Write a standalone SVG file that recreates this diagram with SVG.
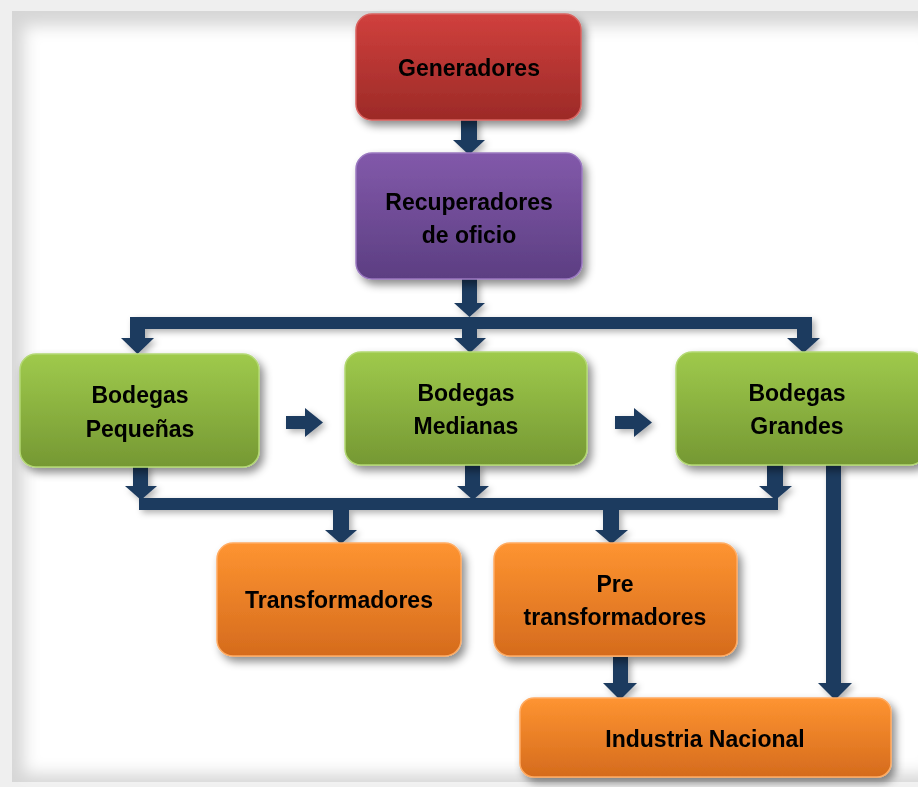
<svg xmlns="http://www.w3.org/2000/svg" width="918" height="787" viewBox="0 0 918 787">
  <defs>
    <linearGradient id="gRed" x1="0" y1="0" x2="0" y2="1">
      <stop offset="0" stop-color="#d0403d"/>
      <stop offset="1" stop-color="#9c2a27"/>
    </linearGradient>
    <linearGradient id="gPurple" x1="0" y1="0" x2="0" y2="1">
      <stop offset="0" stop-color="#8259aa"/>
      <stop offset="1" stop-color="#5c3e82"/>
    </linearGradient>
    <linearGradient id="gGreen" x1="0" y1="0" x2="0" y2="1">
      <stop offset="0" stop-color="#9fca4c"/>
      <stop offset="1" stop-color="#759833"/>
    </linearGradient>
    <linearGradient id="gOrange" x1="0" y1="0" x2="0" y2="1">
      <stop offset="0" stop-color="#fe9431"/>
      <stop offset="1" stop-color="#d56b1d"/>
    </linearGradient>
    <filter id="shadow" x="-20%" y="-20%" width="140%" height="150%">
      <feDropShadow dx="4" dy="5" stdDeviation="4" flood-color="#000" flood-opacity="0.45"/>
    </filter>
    <filter id="arrowShadow" x="-30%" y="-30%" width="160%" height="160%">
      <feDropShadow dx="3" dy="3" stdDeviation="3" flood-color="#000" flood-opacity="0.3"/>
    </filter>
    <filter id="soft" x="-5%" y="-5%" width="110%" height="110%">
      <feGaussianBlur stdDeviation="8"/>
    </filter>
  </defs>
  <style>
    .node rect { stroke-width: 1.5; }
    .red rect { fill: url(#gRed); stroke: #d9625f; }
    .purple rect { fill: url(#gPurple); stroke: #9a78c0; }
    .green rect { fill: url(#gGreen); stroke: #b3d873; }
    .orange rect { fill: url(#gOrange); stroke: #ffab62; }
    .node { filter: url(#shadow); }
    .node text { font-family: "Liberation Sans", Arial, sans-serif; font-weight: bold; font-size: 23px; fill: #000; text-anchor: middle; }
    .conn { fill: #1c3a5e; filter: url(#arrowShadow); }
  </style>

  <!-- page frame with soft inner edge -->
  <rect x="0" y="0" width="918" height="787" fill="#efefef"/>
  <rect x="12" y="11" width="906" height="771" fill="#d6d6d6"/>
  <rect x="24" y="26" width="910" height="748" fill="#ffffff" filter="url(#soft)"/>

  <!-- connectors -->
  <g id="connectors" class="conn">
    <!-- Generadores -> Recuperadores -->
    <rect x="461" y="118" width="16" height="23"/>
    <polygon points="453,140 485,140 469,155"/>
    <!-- Recuperadores -> distribution bar -->
    <rect x="462" y="279" width="15" height="25"/>
    <polygon points="454,303 485,303 469.5,317"/>
    <!-- top distribution bar -->
    <rect x="130" y="317" width="682" height="12"/>
    <rect x="130" y="317" width="15" height="22"/>
    <polygon points="121,338 154,338 137.5,354"/>
    <rect x="462" y="328" width="15" height="11"/>
    <polygon points="454,338 486,338 470,353"/>
    <rect x="797" y="317" width="15" height="22"/>
    <polygon points="787,338 820,338 803.5,353"/>
    <!-- lateral arrows between bodegas -->
    <rect x="286" y="416" width="20" height="13"/>
    <polygon points="305,408 305,437 323,422.5"/>
    <rect x="615" y="416" width="20" height="13"/>
    <polygon points="634,408 634,437 652,422.5"/>
    <!-- bodegas -> collection bar -->
    <rect x="133" y="465" width="15" height="22"/>
    <polygon points="125,486 157,486 141,500"/>
    <rect x="465" y="465" width="15" height="22"/>
    <polygon points="457,486 489,486 473,500"/>
    <rect x="767" y="465" width="16" height="22"/>
    <polygon points="759,486 792,486 775.5,500"/>
    <rect x="139" y="498" width="639" height="12"/>
    <!-- collection bar -> transformadores -->
    <rect x="333" y="509" width="16" height="22"/>
    <polygon points="325,530 357,530 341,544"/>
    <rect x="603" y="509" width="16" height="22"/>
    <polygon points="595,530 628,530 611.5,544"/>
    <!-- pre transformadores -> industria -->
    <rect x="613" y="657" width="15" height="27"/>
    <polygon points="603,683 637,683 620,700"/>
    <!-- bodegas grandes -> industria -->
    <rect x="826" y="465" width="15" height="219"/>
    <polygon points="818,683 852,683 835,700"/>
  </g>

  <!-- nodes -->
  <g id="generadores" class="node red">
    <rect x="356" y="14" width="225" height="106" rx="16"/>
    <text x="469" y="76">Generadores</text>
  </g>
  <g id="recuperadores" class="node purple">
    <rect x="356" y="153" width="226" height="126" rx="16"/>
    <text x="469" y="210">Recuperadores</text>
    <text x="469" y="243">de oficio</text>
  </g>
  <g id="bodegas-pequenas" class="node green">
    <rect x="20" y="354" width="239" height="113" rx="16"/>
    <text x="140" y="403">Bodegas</text>
    <text x="140" y="437">Pequeñas</text>
  </g>
  <g id="bodegas-medianas" class="node green">
    <rect x="345" y="352" width="242" height="113" rx="16"/>
    <text x="466" y="401">Bodegas</text>
    <text x="466" y="434">Medianas</text>
  </g>
  <g id="bodegas-grandes" class="node green">
    <rect x="676" y="352" width="250" height="113" rx="16"/>
    <text x="797" y="401">Bodegas</text>
    <text x="797" y="434">Grandes</text>
  </g>
  <g id="transformadores" class="node orange">
    <rect x="217" y="543" width="244" height="113" rx="16"/>
    <text x="339" y="608">Transformadores</text>
  </g>
  <g id="pre-transformadores" class="node orange">
    <rect x="494" y="543" width="243" height="113" rx="16"/>
    <text x="615" y="592">Pre</text>
    <text x="615" y="625">transformadores</text>
  </g>
  <g id="industria-nacional" class="node orange">
    <rect x="520" y="698" width="371" height="79" rx="14"/>
    <text x="705" y="747">Industria Nacional</text>
  </g>
</svg>
